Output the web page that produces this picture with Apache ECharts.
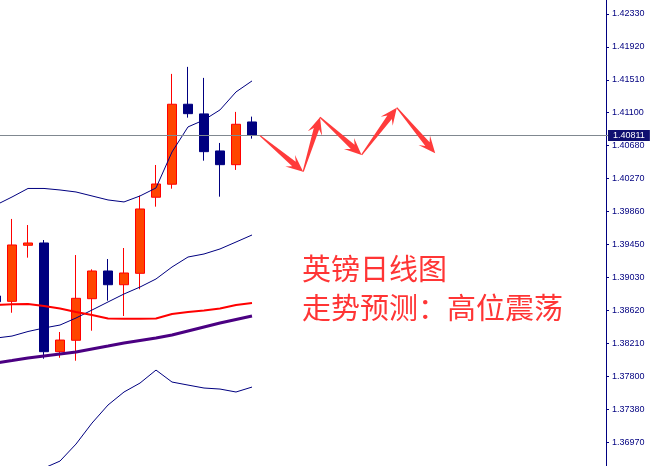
<!DOCTYPE html>
<html><head><meta charset="utf-8">
<script src="https://cdn.jsdelivr.net/npm/echarts@6/dist/echarts.min.js"></script>
<style>html,body{margin:0;padding:0;background:#fff;width:654px;height:466px;overflow:hidden;position:relative;}
#c{position:absolute;left:-12px;top:-19px;width:666px;height:494px;}</style>
</head><body><div id="c"></div>
<script>
// ---- data ----
const categories = ['1','2','3','4','5','6','7','8','9','10','11','12','13','14','15','16','17'];
const opens  = [1.38800, 1.38733, 1.39435, 1.39464, 1.38102, 1.38245, 1.38766, 1.39113, 1.38941, 1.39084, 1.40037, 1.40200, 1.41202, 1.41081, 1.40617, 1.40445, 1.40980];
const closes = [1.38728, 1.39439, 1.39464, 1.38102, 1.38248, 1.38771, 1.39113, 1.38941, 1.39088, 1.39890, 1.40203, 1.41202, 1.41084, 1.40608, 1.40445, 1.40951, 1.40811];
const lows   = [1.38687, 1.38590, 1.39280, 1.38014, 1.38026, 1.37989, 1.38365, 1.38741, 1.38549, 1.38884, 1.39919, 1.40144, 1.41034, 1.40495, 1.40044, 1.40379, 1.40771];
const highs  = [1.38837, 1.39765, 1.39689, 1.39501, 1.38349, 1.39313, 1.39134, 1.39263, 1.39401, 1.40057, 1.40441, 1.41582, 1.41670, 1.41532, 1.40717, 1.41106, 1.41047];
const bbUpper  = [1.39940, 1.40040, 1.40147, 1.40147, 1.40128, 1.40103, 1.40053, 1.40003, 1.39978, 1.40053, 1.40153, 1.40604, 1.40918, 1.41005, 1.41131, 1.41356, 1.41494];
const bbMiddle = [1.38273, 1.38298, 1.38355, 1.38399, 1.38436, 1.38524, 1.38624, 1.38725, 1.38825, 1.38912, 1.39013, 1.39163, 1.39288, 1.39326, 1.39389, 1.39476, 1.39564];
const bbLower  = [1.36607, 1.36556, 1.36569, 1.36644, 1.36732, 1.36945, 1.37208, 1.37434, 1.37597, 1.37709, 1.37872, 1.37722, 1.37684, 1.37647, 1.37634, 1.37597, 1.37659];
const maRed    = [1.38687, 1.38696, 1.38699, 1.38674, 1.38643, 1.38599, 1.38562, 1.38518, 1.38515, 1.38515, 1.38518, 1.38574, 1.38599, 1.38618, 1.38643, 1.38687, 1.38712];
const maPurple = [1.37960, 1.37991, 1.38023, 1.38048, 1.38073, 1.38098, 1.38136, 1.38173, 1.38211, 1.38242, 1.38273, 1.38311, 1.38361, 1.38411, 1.38461, 1.38505, 1.38549];
// forecast zigzag (category position, price)
const fcPos   = [16.5, 19.2, 20.25, 22.85, 25.05, 27.45];
const fcPrice = [1.40809, 1.40357, 1.41039, 1.40567, 1.41159, 1.40588];
const tickLabels = ['1.36970','1.37380','1.37800','1.38210','1.38620','1.39030','1.39450','1.39860','1.40270','1.40680','1.41100','1.41510','1.41920','1.42330'];
const titleLines = ['英镑日线图', '走势预测：高位震荡'];

// ---- build ----
const futureSlots = 22;
const xCats = categories.slice();
for (let i = 1; i <= futureSlots; i++) xCats.push('F' + i);
const candleData = opens.map((o, i) => [o, closes[i], lows[i], highs[i]]);
const tickBase = Number(tickLabels[0]);
const tickStep = tickBase / 332; // label spacing, chosen so labels are whole multiples
const lastClose = closes[closes.length - 1];
const segs = [];
for (let i = 0; i < fcPos.length - 1; i++) segs.push([Math.floor(fcPos[i]), fcPrice[i], Math.floor(fcPos[i+1]), fcPrice[i+1]]);

function lineSeries(data, color, width, extra) {
  return Object.assign({ type: 'line', data: data, symbol: 'none', showSymbol: false, z: 4,
    lineStyle: { color: color, width: width }, itemStyle: { color: color }, silent: true }, extra || {});
}

const chart = echarts.init(document.getElementById('c'));
chart.setOption({
  animation: false,
  backgroundColor: '#ffffff',
  grid: { left: 0, right: 42, top: 0, bottom: 0, containLabel: false },
  xAxis: { type: 'category', data: xCats, show: false, boundaryGap: true },
  yAxis: {
    type: 'value', position: 'right', offset: -6,
    min: tickStep * 331, max: tickStep * 346, interval: tickStep,
    axisLine: { show: true, lineStyle: { color: '#000080', width: 1 } },
    axisTick: { show: true, length: 3, inside: false, lineStyle: { color: '#000080' } },
    axisLabel: { margin: 6, color: '#000080', fontSize: 9, fontFamily: 'Liberation Sans',
      formatter: function (v) { const i = Math.round((v - tickBase) / tickStep); return tickLabels[i] || ''; } },
    splitLine: { show: false }
  },
  series: [
    { type: 'candlestick', data: candleData, barWidth: 10, z: 2,
      itemStyle: { color: '#FF4500', color0: '#000080', borderColor: '#FF0000', borderColor0: '#000080', borderWidth: 1 } },
    lineSeries(bbUpper, '#000080', 1, {
      markLine: { silent: true, symbol: ['none', 'none'], animation: false, precision: 5,
        lineStyle: { color: '#808890', width: 1, type: 'solid' },
        label: { show: true, position: 'end', distance: -4, formatter: lastClose.toFixed(5),
          backgroundColor: '#101070', color: '#ffffff', fontSize: 9, fontFamily: 'Liberation Sans',
          padding: [1, 5, 1, 5] },
        data: [{ yAxis: lastClose }] } }),
    lineSeries(bbMiddle, '#000080', 1),
    lineSeries(bbLower, '#000080', 1),
    lineSeries(maRed, '#FF0000', 2),
    lineSeries(maPurple, '#4B0082', 3),
    { type: 'custom', data: segs, z: 5, silent: true,
      encode: { x: [0, 2], y: [1, 3] },
      renderItem: function (params, api) {
        const i = params.dataIndex;
        const bw = api.size([1, 0])[0];
        const pt = (pos, price) => { const f = Math.floor(pos); const c = api.coord([f, price]); return [c[0] + (pos - f) * bw, c[1]]; };
        const a = pt(fcPos[i], fcPrice[i]);
        const b = pt(fcPos[i + 1], fcPrice[i + 1]);
        const dx = b[0] - a[0], dy = b[1] - a[1], L = Math.hypot(dx, dy);
        const ux = dx / L, uy = dy / L, nx = -uy, ny = ux;
        const head = 17, join = 12, hw = 7.5, sw = 2.8, tw = 0.6;
        const P = (t, w) => [a[0] + ux * t + nx * w, a[1] + uy * t + ny * w];
        return { type: 'polygon', shape: { points: [P(0, tw), P(L - join, sw), P(L - head, hw), P(L, 0), P(L - head, -hw), P(L - join, -sw), P(0, -tw)] },
          style: { fill: '#ff3b3b' } };
      } }
  ],
  graphic: [
    { type: 'text', left: 314, top: 273, style: { text: titleLines[0], font: '29px "Noto Sans CJK SC"', fill: '#ff3535' } },
    { type: 'text', left: 314, top: 312, style: { text: titleLines[1], font: '29px "Noto Sans CJK SC"', fill: '#ff3535' } }
  ]
});
</script></body></html>
